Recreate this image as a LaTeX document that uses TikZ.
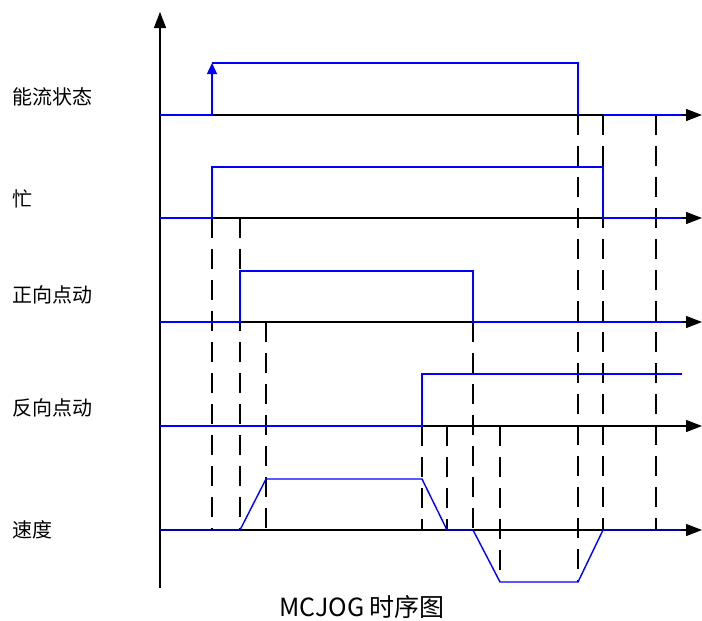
\documentclass[tikz,border=0pt]{standalone}
\usepackage{fontspec}
\newfontfamily\cjk{Noto Sans CJK SC}
\usetikzlibrary{arrows.meta}
\begin{document}
\begin{tikzpicture}[x=1pt,y=-1pt,
  axis/.style={line width=1.3pt, black, -{Triangle[length=16pt,width=12pt]}},
  sig/.style={line width=1.4pt, blue, line join=miter},
  guide/.style={line width=1.3pt, black, dash pattern=on 20pt off 11pt},
  lbl/.style={font=\cjk\fontsize{20}{24}\selectfont, anchor=west, inner sep=0pt},
  caption/.style={font=\cjk\fontsize{25}{30}\selectfont, inner sep=0pt}]
\useasboundingbox (0,0) rectangle (702,621);

% axes
\draw[axis] (160,588) -- (160,12);
\foreach \y in {115,218,322,426,530} {
  \draw[axis] (160,\y) -- (702,\y);
}

% guide lines
\draw[guide] (212,218) -- (212,530);
\draw[guide] (240,218) -- (240,530);
\draw[guide] (266,322) -- (266,530);
\draw[guide] (422,426) -- (422,530);
\draw[guide] (447,426) -- (447,530);
\draw[guide] (473,322) -- (473,530);
\draw[guide] (500,426) -- (500,578);
\draw[guide] (578,115) -- (578,582);
\draw[guide] (603,115) -- (603,530);
\draw[guide] (656,115) -- (656,530);

% signals
\draw[sig] (160,115) -- (212,115);
\draw[sig,-{Triangle[length=11pt,width=10pt]}] (212,115) -- (212,63);
\draw[sig] (212,63) -- (578,63) -- (578,115);
\draw[sig] (603,115) -- (682,115);

\draw[sig] (160,218) -- (212,218) -- (212,167) -- (603,167) -- (603,218) -- (682,218);
\draw[sig] (160,322) -- (240,322) -- (240,271) -- (473,271) -- (473,322) -- (682,322);
\draw[sig] (160,426) -- (422,426) -- (422,374) -- (682,374);
\draw[sig] (160,530) -- (240,530) -- (266,479) -- (422,479) -- (447,530) -- (473,530)
  -- (500,582) -- (578,582) -- (603,530) -- (682,530);

% labels
\node[lbl] (l1) at (12,97) {能流状态};
\node[lbl] (l2) at (12,199) {忙};
\node[lbl] (l3) at (12,295) {正向点动};
\node[lbl] (l4) at (12,408) {反向点动};
\node[lbl] (l5) at (12,530) {速度};
\node[caption] (cap) at (362,607) {MCJOG 时序图};
\end{tikzpicture}
\end{document}
